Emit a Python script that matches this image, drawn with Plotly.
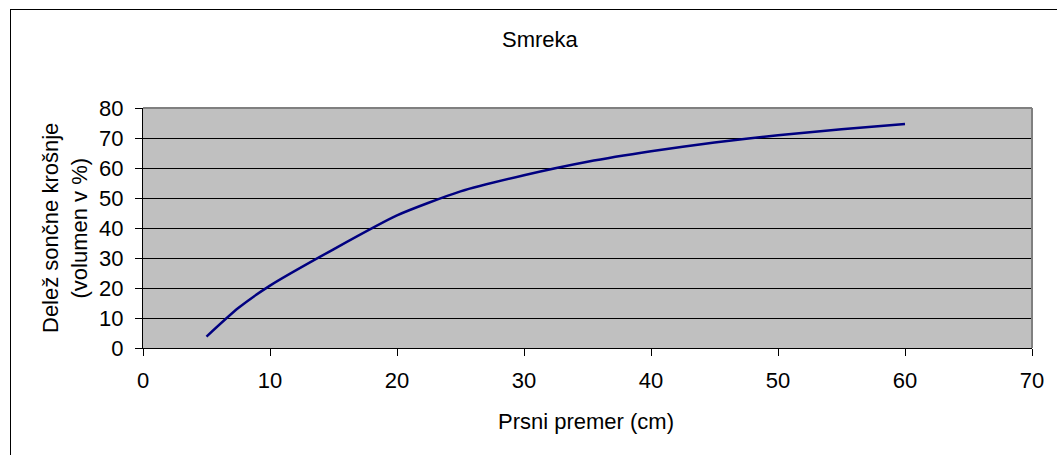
import plotly.graph_objects as go

# Data
premer_cm = [5, 7.5, 10, 15, 20, 25, 30, 35, 40, 45, 50, 55, 60]
delez_pct = [3.8, 13.3, 20.8, 32.9, 44.2, 52.2, 57.6, 62.1, 65.6, 68.5, 70.9, 72.9, 74.7]

x_ticks = [0, 10, 20, 30, 40, 50, 60, 70]
y_ticks = [0, 10, 20, 30, 40, 50, 60, 70, 80]

title_text = "Smreka"
x_title = "Prsni premer (cm)"
y_title_lines = ["Delež sončne krošnje", "(volumen v %)"]

FONT = "Liberation Sans, Arial, sans-serif"
FS = 22

W, H = 1057, 455
L, R, T, B = 143, 25, 108, 107
pw = W - L - R
ph = H - T - B

def px_to_paper_x(px):
    return (px - L) / pw

def py_to_paper_y(py):
    return (H - B - py) / ph

fig = go.Figure()
fig.add_trace(go.Scatter(
    x=premer_cm, y=delez_pct, mode="lines",
    line=dict(color="#000080", width=2.5, shape="spline", smoothing=0.6),
    showlegend=False, hoverinfo="skip",
))

fig.update_layout(
    width=W, height=H,
    margin=dict(l=L, r=R, t=T, b=B, pad=0),
    paper_bgcolor="white",
    plot_bgcolor="#C0C0C0",
    font=dict(family=FONT, size=FS, color="black"),
    showlegend=False,
)

fig.update_xaxes(
    range=[0, 70], tickvals=x_ticks, ticktext=[str(v) for v in x_ticks],
    showgrid=False, zeroline=False,
    showline=True, linecolor="black", linewidth=1,
    ticks="outside", ticklen=7, tickcolor="black", tickwidth=1,
    tickfont=dict(family=FONT, size=FS, color="black"),
    ticklabelstandoff=6,
)
fig.update_yaxes(
    range=[0, 80], tickvals=y_ticks, ticktext=[str(v) for v in y_ticks],
    showgrid=True, gridcolor="black", gridwidth=1,
    zeroline=False,
    showline=True, linecolor="black", linewidth=1,
    ticks="outside", ticklen=7, tickcolor="black", tickwidth=1,
    tickfont=dict(family=FONT, size=FS, color="black"),
    ticklabelstandoff=7,
)

# plot area border (top/right grey)
fig.add_shape(type="line", xref="x domain", yref="y domain", x0=0, x1=1, y0=1, y1=1,
              line=dict(color="#808080", width=2))
fig.add_shape(type="line", xref="x domain", yref="y domain", x0=1, x1=1, y0=0, y1=1,
              line=dict(color="#808080", width=2))

# outer chart border (top and left visible)
fig.add_shape(type="line", xref="paper", yref="paper",
              x0=px_to_paper_x(10), x1=px_to_paper_x(1100),
              y0=py_to_paper_y(9.5), y1=py_to_paper_y(9.5),
              line=dict(color="black", width=1))
fig.add_shape(type="line", xref="paper", yref="paper",
              x0=px_to_paper_x(10.5), x1=px_to_paper_x(10.5),
              y0=py_to_paper_y(9), y1=py_to_paper_y(500),
              line=dict(color="black", width=1))

# titles
fig.add_annotation(text=title_text, xref="paper", yref="paper",
                   x=px_to_paper_x(540), y=py_to_paper_y(40),
                   xanchor="center", yanchor="middle", showarrow=False,
                   font=dict(family=FONT, size=FS, color="black"))
fig.add_annotation(text=x_title, xref="paper", yref="paper",
                   x=px_to_paper_x(586), y=py_to_paper_y(421),
                   xanchor="center", yanchor="middle", showarrow=False,
                   font=dict(family=FONT, size=FS, color="black"))
for line_text, cx in zip(y_title_lines, [50, 78.5]):
    fig.add_annotation(text=line_text, xref="paper", yref="paper",
                       x=px_to_paper_x(cx), y=py_to_paper_y(228),
                       xanchor="center", yanchor="middle", showarrow=False,
                       textangle=-90,
                       font=dict(family=FONT, size=FS, color="black"))

fig.write_html("out.html")
